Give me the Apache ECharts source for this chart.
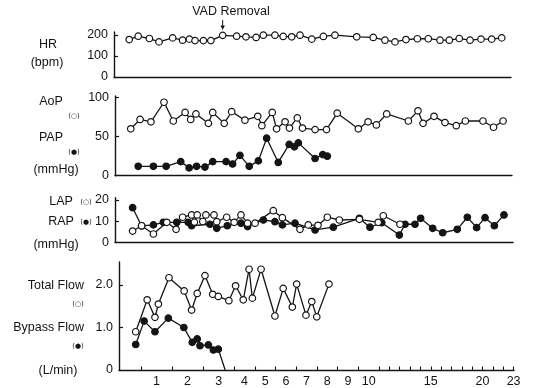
<!DOCTYPE html>
<html><head><meta charset="utf-8">
<script src="https://cdn.jsdelivr.net/npm/echarts@6/dist/echarts.min.js"></script>
<style>html,body{margin:0;padding:0;background:#fff}#c{width:537px;height:388px}</style>
</head><body><div id="c"></div>
<script>
// Time in days: day n spans [n, n+1]
const hrDays = [0.62,0.91,1.27,1.58,2.02,2.34,2.56,2.74,3.01,3.25,3.63,4.12,4.57,5.06,5.41,5.97,6.37,6.78,7.18,7.75,8.31,8.87,9.92,10.72,11.57,12.54,13.60,14.70,15.76,16.89,17.79,18.75,19.79,20.85,21.88,22.85];
const hrValues = [178,194,183,167,186,175,180,173,173,173,198,194,191,188,199,199,193,191,199,180,193,199,191,188,175,167,178,182,182,175,175,183,175,180,180,186];

const aopDays = [0.67,0.97,1.32,1.74,2.04,2.42,2.60,2.77,3.17,3.31,3.68,3.92,4.52,5.14,5.34,5.84,6.05,6.46,6.67,7.05,7.30,7.91,8.46,8.98,10.00,10.47,10.87,11.74,13.83,14.76,15.25,16.31,17.37,18.46,19.34,21.04,22.06,22.98];
const aopValues = [60,72,69,94,70,81,72,79,67,81,67,82,71,76,64,81,60,69,61,74,61,59,59,80,60,69,65,79,70,83,67,76,68,64,70,70,62,70];

const papDays = [0.91,1.40,1.81,2.28,2.55,2.79,3.06,3.31,3.74,3.95,4.28,4.73,5.17,5.57,6.13,6.66,6.91,7.10,7.91,8.28,8.50];
const papValues = [12,12,12,18,10,12,11,18,18,15,26,12,19,48,17,40,37,42,22,27,25];

const lapDays = [0.73,1.02,1.40,1.83,2.13,2.34,2.63,2.72,2.81,2.99,3.09,3.35,3.44,3.76,4.00,4.33,4.65,5.01,5.89,6.33,7.18,7.58,8.05,8.50,9.08,10.05,10.96,11.41,13.02];
const lapValues = [5.3,7.8,3.9,9.4,6.1,11.8,12.9,9.5,12.9,9.8,12.9,12.9,9.7,11.8,9.4,12.9,9,9,14.9,11.6,6.1,8.2,8,11.8,10.5,10.8,9.4,12.5,8.5];

const rapDays = [0.73,1.02,1.40,1.72,2.15,2.52,2.63,3.22,3.44,3.78,4.33,4.65,5.41,5.97,6.33,6.94,7.91,8.79,10.05,10.56,11.26,12.96,13.51,14.47,15.02,16.18,17.15,18.56,19.53,20.43,21.24,22.14,23.07];
const rapValues = [16.3,7.7,8.2,9.4,9.4,9.4,7.8,8.5,6.6,7.8,9,7.4,10.5,9.7,8.2,9,5.8,7.1,11.3,7.1,9.2,3.4,8.5,8.5,11.3,6.6,4.5,6.1,11.8,6.9,11.6,7.8,12.9];

const totalFlowDays = [0.83,1.20,1.45,1.56,1.90,2.39,2.63,2.81,3.06,3.31,3.49,3.83,4.07,4.44,4.72,4.88,5.30,5.97,6.37,6.81,7.02,7.47,7.75,7.99,8.58];
const totalFlowValues = [0.90,1.65,1.24,1.55,2.17,1.86,1.41,1.80,2.22,1.78,1.73,1.63,1.98,1.65,2.37,1.69,2.37,1.27,1.92,1.48,2.02,1.29,1.61,1.25,2.02];

const bypassFlowDays = [0.83,1.10,1.45,1.88,2.38,2.65,2.81,2.90,3.17,3.33,3.49,3.71];
const bypassFlowValues = [0.60,1.15,0.90,1.22,1.00,0.65,0.73,0.57,0.59,0.47,0.49,0];

const vadRemovalDay = 3.63;

const dayBoundaries = [1,2,3,4,5,6,7,8,9,10,11,12,13,14,15,16,17,18,19,20,21,22,23,24];
const dayLabelTexts = ['1','2','3','4','5','6','7','8','9','10','15','20','23'];
const dayLabelDays = [1.5,2.5,3.5,4.5,5.5,6.5,7.5,8.5,9.5,10.5,16,21,24];

const hrTicks = [0,100,200];
const pressureTicks = [0,50,100];
const atrialTicks = [0,10,20];
const flowTicks = [0,1,2];

// Compressed time scale: days 0-4 x3, 4-11 x2, after 11 x1
function warp(t){ if(t<=4) return 3*t; if(t<=11) return 12+2*(t-4); return 26+(t-11); }

const FONT = "'Liberation Sans', Arial, sans-serif";
const INK = '#141414';
const PX0 = 109.95, PXW = 10.35;

const panels = [
  {left:114, right:511, top:32, bottom:77, max:214, ticks:hrTicks, fmt:v=>String(v)},
  {left:115, right:512, top:96, bottom:175.7, max:102, ticks:pressureTicks, fmt:v=>String(v)},
  {left:115, right:513, top:197.7, bottom:242.3, max:21, ticks:atrialTicks, fmt:v=>String(v)},
  {left:119, right:514, top:262, bottom:370, max:2.54, ticks:flowTicks, fmt:v=>v===0?'0':v.toFixed(1)}
];

const labelMap = {};
dayLabelDays.forEach((d,i)=>{ labelMap[warp(d).toFixed(3)] = dayLabelTexts[i]; });

const grid = panels.map(p=>({left:p.left, width:p.right-p.left, top:p.top, height:p.bottom-p.top, containLabel:false}));
const xAxis = panels.map((p,i)=>({
  type:'value', gridIndex:i,
  min:(p.left-PX0)/PXW, max:(p.right-PX0)/PXW,
  axisLine:{show:true, onZero:false, lineStyle:{color:INK, width:1.4}},
  splitLine:{show:false},
  axisTick: i===3 ? {show:true, inside:true, length:3.5, lineStyle:{color:INK,width:1.1}, customValues: dayBoundaries.map(warp)} : {show:false},
  axisLabel: i===3 ? {show:true, color:INK, fontFamily:FONT, fontSize:12.5, margin:5,
      customValues: dayLabelDays.map(warp),
      formatter: v => labelMap[Number(v).toFixed(3)] || ''} : {show:false}
}));
const yAxis = panels.map((p,i)=>({
  type:'value', gridIndex:i, min:0, max:p.max,
  axisLine:{show:true, lineStyle:{color:INK, width:1.4}},
  splitLine:{show:false},
  axisTick:{show:true, inside:true, length:4, lineStyle:{color:INK,width:1.2}, customValues:p.ticks.filter(v=>v>0)},
  axisLabel:{show:true, color:INK, fontFamily:FONT, fontSize:12.5, margin:6, customValues:p.ticks, formatter:p.fmt}
}));

function pairs(days, vals){ return days.map((d,i)=>[warp(d), vals[i]]); }
function lineSeries(idx, data, filled){
  return {type:'line', xAxisIndex:idx, yAxisIndex:idx, data,
    symbol:'circle', symbolSize:6.5, showAllSymbol:true,
    lineStyle:{color:INK, width:1.3},
    itemStyle:{color: filled?INK:'#fff', borderColor:INK, borderWidth:1.2},
    emphasis:{disabled:true}, z: filled?3:4};
}
const bypassData = pairs(bypassFlowDays, bypassFlowValues).map((v,i,a)=> i===a.length-1 ? {value:v, symbol:'none'} : v);

let gid = 0;
const T = (text,x,y,opt={}) => ({type:'text', id:'t'+(gid++), x, y, style:Object.assign({text, fill:INK, font:`12.5px ${FONT}`, textAlign:'center', textVerticalAlign:'middle'}, opt)});
const S = (text,x,y) => T(text,x,y,{font:`7px 'DejaVu Sans', sans-serif`});

const chart = echarts.init(document.getElementById('c'));
chart.setOption({
  animation:false,
  backgroundColor:'#fff',
  grid, xAxis, yAxis,
  series:[
    lineSeries(0, pairs(hrDays,hrValues), false),
    lineSeries(1, pairs(aopDays,aopValues), false),
    lineSeries(1, pairs(papDays,papValues), true),
    lineSeries(2, pairs(lapDays,lapValues), false),
    lineSeries(2, pairs(rapDays,rapValues), true),
    lineSeries(3, pairs(totalFlowDays,totalFlowValues), false),
    lineSeries(3, bypassData, true)
  ],
  graphic:[
    T('VAD Removal', 231, 12),
    T('HR', 48, 45), T('(bpm)', 47, 63),
    T('AoP', 51, 102), S('(○)', 74, 116),
    T('PAP', 51, 138), S('(●)', 74, 152),
    T('(mmHg)', 56, 170),
    T('LAP', 61, 202), S('(○)', 86, 202),
    T('RAP', 61, 222), S('(●)', 86, 222),
    T('(mmHg)', 56, 245),
    T('Total Flow', 84, 286, {textAlign:'right'}), S('(○)', 78, 304),
    T('Bypass Flow', 84, 328, {textAlign:'right'}), S('(●)', 78, 346),
    T('(L/min)', 58, 371)
  ]
});

const ax = chart.convertToPixel({xAxisIndex:0, yAxisIndex:0}, [warp(vadRemovalDay), 0])[0];
chart.setOption({graphic:[
  {type:'line', id:'vadArrowShaft', shape:{x1:ax, y1:20, x2:ax, y2:28}, style:{stroke:INK, lineWidth:1}},
  {type:'polygon', id:'vadArrowHead', shape:{points:[[ax-2.2,25.5],[ax+2.2,25.5],[ax,30]]}, style:{fill:INK}}
]});
</script></body></html>
